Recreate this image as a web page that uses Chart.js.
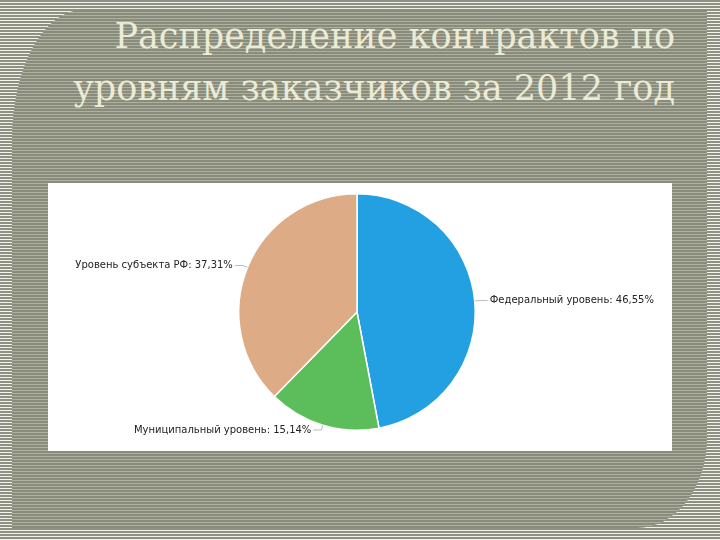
<!doctype html>
<html lang="ru">
  <head>
    <meta charset="utf-8">
    <title>Распределение контрактов</title>
    <script src="https://cdn.jsdelivr.net/npm/chart.js"></script>
    <style>
      html, body { margin: 0; padding: 0; }
      body {
        width: 720px;
        height: 540px;
        overflow: hidden;
        position: relative;
        background: repeating-linear-gradient(to bottom, #8e9181 0 2px, #f3f3ee 2px 3px);
      }
      .slide {
        position: absolute;
        left: 12px;
        top: 10px;
        width: 695px;
        height: 518px;
        border-top-left-radius: 70px 130px;
        border-bottom-right-radius: 70px 90px;
        background: repeating-linear-gradient(to bottom, #898c7b 0 2px, #aeb0a2 2px 3px);
      }
      .title {
        position: absolute;
        right: 45px;
        top: 10px;
        width: 660px;
        text-align: right;
        font-family: "DejaVu Serif", serif;
        font-size: 35px;
        line-height: 52px;
        color: #ecebd6;
      }
      .chart-box {
        position: absolute;
        left: 48px;
        top: 183px;
        width: 624px;
        height: 268px;
        background: #fff;
      }
    </style>
  </head>
  <body>
    <div class="slide"></div>
    <div class="title">Распределение контрактов по<br>уровням заказчиков за 2012 год</div>
    <div class="chart-box">
      <canvas id="pieChart" width="624" height="268"></canvas>
    </div>
    <script>
      const categories = ['Федеральный уровень', 'Муниципальный уровень', 'Уровень субъекта РФ'];
      const shares = [46.55, 15.14, 37.31];
      const shareLabels = ['46,55%', '15,14%', '37,31%'];
      const colors = ['#22a0e1', '#5bbe5a', '#ddac87'];

      // leader lines + outside labels
      const outsideLabels = {
        id: 'outsideLabels',
        afterDatasetsDraw(chart) {
          const ctx = chart.ctx;
          const arcs = chart.getDatasetMeta(0).data;
          ctx.save();
          ctx.font = '10px "DejaVu Sans", sans-serif';
          ctx.fillStyle = '#222';
          ctx.strokeStyle = '#bbb';
          ctx.lineWidth = 1;
          ctx.textBaseline = 'middle';
          arcs.forEach((arc, i) => {
            const mid = (arc.startAngle + arc.endAngle) / 2;
            const r = arc.outerRadius;
            const x0 = arc.x + Math.cos(mid) * r;
            const y0 = arc.y + Math.sin(mid) * r;
            const x1 = arc.x + Math.cos(mid) * (r + 5);
            const y1 = arc.y + Math.sin(mid) * (r + 5);
            const right = Math.cos(mid) >= 0;
            const x2 = x1 + (right ? 8 : -8);
            ctx.beginPath();
            ctx.moveTo(x0, y0);
            ctx.lineTo(x1, y1);
            ctx.lineTo(x2, y1);
            ctx.stroke();
            ctx.textAlign = right ? 'left' : 'right';
            ctx.fillText(categories[i] + ': ' + shareLabels[i], x2 + (right ? 2 : -2), y1);
          });
          ctx.restore();
        }
      };

      new Chart(document.getElementById('pieChart'), {
        type: 'pie',
        data: {
          labels: categories,
          datasets: [{
            data: shares,
            backgroundColor: colors,
            borderColor: '#fff',
            borderWidth: 1.5
          }]
        },
        options: {
          responsive: false,
          animation: false,
          layout: { padding: { top: 10, bottom: 20, left: 0, right: 6 } },
          plugins: { legend: { display: false }, tooltip: { enabled: false } }
        },
        plugins: [outsideLabels]
      });
    </script>
  </body>
</html>
